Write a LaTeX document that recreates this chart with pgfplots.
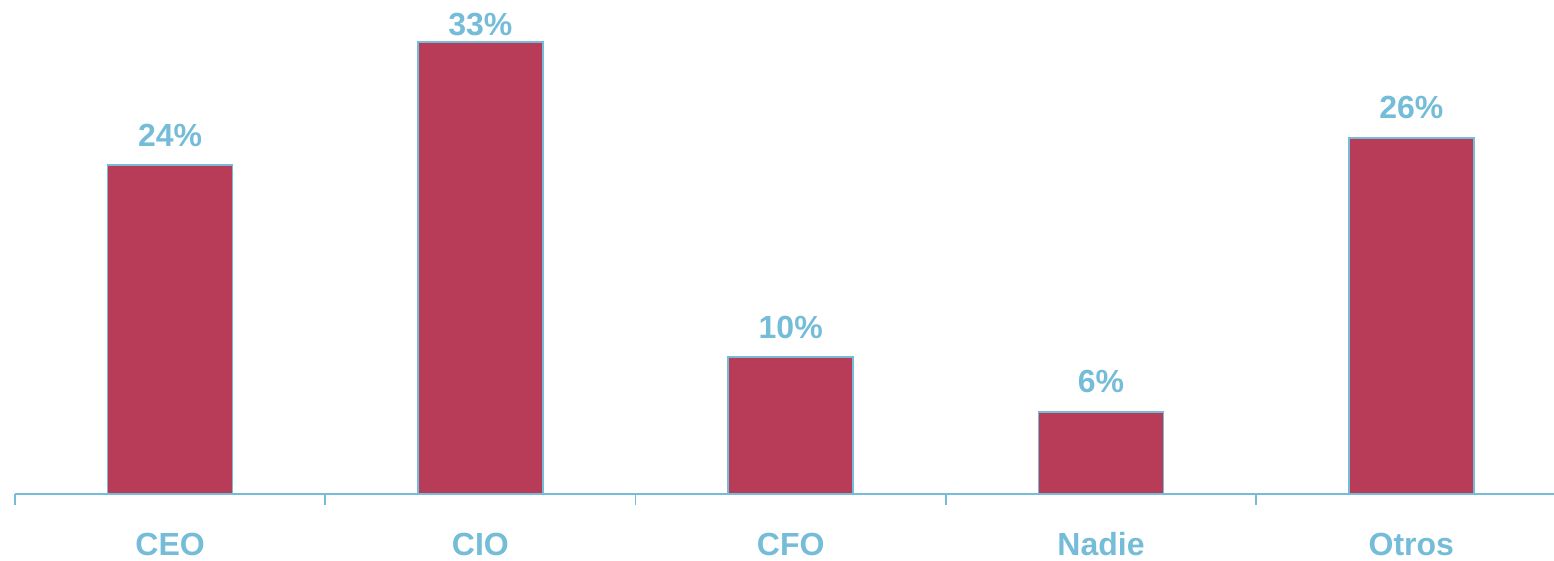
\documentclass[border=0pt]{standalone}
\usepackage{fontspec}
\setmainfont{Liberation Sans}
\usepackage{pgfplots}
\pgfplotsset{compat=1.18}
\definecolor{barred}{RGB}{184,60,88}
\definecolor{lblue}{RGB}{116,188,216}
\begin{document}
\begin{tikzpicture}
\begin{axis}[
  at={(0,0)}, anchor=south west,
  scale only axis,
  width=769.5pt, height=247pt,
  xmin=-0.5, xmax=4.46,
  ymin=0, ymax=36.06,
  hide y axis,
  axis x line*=bottom,
  axis line style={lblue, line width=0.9pt},
  xtick={0,1,2,3,4},
  xticklabels={CEO,CIO,CFO,Nadie,Otros},
  major tick length=0pt,
  minor xtick={-0.5,0.5,1.5,2.5,3.5},
  minor tick length=5.5pt,
  tick align=outside,
  tick style={lblue, line width=0.9pt},
  xticklabel style={font=\fontsize{16}{19}\selectfont\bfseries, text=lblue, anchor=base, yshift=-31pt},
  ybar,
  bar width=62.5pt,
  visualization depends on={y \as \rawy},
  nodes near coords={\pgfmathprintnumber[assume math mode=true]{\pgfplotspointmeta}\%},
  every node near coord/.append style={font=\fontsize{16}{19}\selectfont\bfseries, text=lblue, anchor=base, inner sep=0pt, yshift={ifthenelse(\rawy>30,3.2,9.5)*1pt}},
  clip=false,
]
\addplot[fill=barred, draw=lblue, line width=0.75pt] coordinates {(0,24) (1,33) (2,10) (3,6) (4,26)};
\end{axis}
\pgfresetboundingbox
\path (-7.5pt,-33.5pt) rectangle (769.5pt,247pt);
\end{tikzpicture}
\end{document}
